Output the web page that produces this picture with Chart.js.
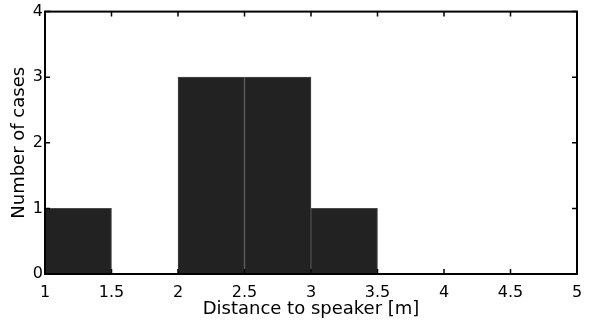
<!DOCTYPE html>
<html>
<head>
<meta charset="utf-8">
<script src="https://cdn.jsdelivr.net/npm/chart.js@4/dist/chart.umd.min.js"></script>
<style>
  html, body { margin: 0; padding: 0; background: #fff; }
  #wrap { width: 590px; height: 325px; }
</style>
</head>
<body>
<div id="wrap"><canvas id="myChart"></canvas></div>
<script>
// histogram bins (centres, 0.5 m wide) and counts
var binCenters = [1.25, 1.75, 2.25, 2.75, 3.25, 3.75, 4.25, 4.75];
var counts = [1, 0, 3, 3, 1, 0, 0, 0];
var xTicks = [1, 1.5, 2, 2.5, 3, 3.5, 4, 4.5, 5];
var yTicks = [0, 1, 2, 3, 4];

var tickFont = { family: 'DejaVu Sans', size: 16 };
var titleFont = { family: 'DejaVu Sans', size: 18 };

// box around the plot plus inward tick marks, matlab style
var boxPlugin = {
  id: 'box',
  afterDraw: function (chart) {
    var c = chart.ctx, a = chart.chartArea;
    var xs = chart.scales.x, ys = chart.scales.y;
    c.save();
    c.strokeStyle = '#000';
    c.lineWidth = 1.5;
    xTicks.forEach(function (v) {
      var px = xs.getPixelForValue(v);
      c.beginPath();
      c.moveTo(px, a.bottom); c.lineTo(px, a.bottom - 5);
      c.moveTo(px, a.top); c.lineTo(px, a.top + 5);
      c.stroke();
    });
    yTicks.forEach(function (v) {
      var py = ys.getPixelForValue(v);
      c.beginPath();
      c.moveTo(a.left, py); c.lineTo(a.left + 5, py);
      c.moveTo(a.right, py); c.lineTo(a.right - 5, py);
      c.stroke();
    });
    c.lineWidth = 2;
    c.strokeRect(a.left, a.top, a.right - a.left, a.bottom - a.top);
    c.restore();
  }
};

var ctx = document.getElementById('myChart').getContext('2d');
var myChart = new Chart(ctx, {
  type: 'bar',
  data: {
    datasets: [{
      data: binCenters.map(function (x, i) { return { x: x, y: counts[i] }; }),
      backgroundColor: '#222222',
      borderColor: '#4a4a4a',
      borderWidth: 1,
      barPercentage: 1,
      categoryPercentage: 1
    }]
  },
  options: {
    responsive: true,
    maintainAspectRatio: false,
    animation: false,
    layout: { padding: { top: 11, right: 13, left: 0, bottom: 0 } },
    plugins: { legend: { display: false }, tooltip: { enabled: false } },
    scales: {
      x: {
        type: 'linear',
        offset: false,
        min: 1, max: 5,
        afterBuildTicks: function (s) { s.ticks = xTicks.map(function (v) { return { value: v }; }); },
        afterFit: function (s) { s.height = 51; },
        grid: { display: false, offset: false },
        border: { display: false },
        ticks: { color: '#000', font: tickFont, padding: 1, maxRotation: 0,
                 callback: function (v) { return String(v); } },
        title: { display: true, text: 'Distance to speaker [m]', color: '#000', font: titleFont, padding: { top: 0, bottom: 5 } }
      },
      y: {
        min: 0, max: 4,
        afterBuildTicks: function (s) { s.ticks = yTicks.map(function (v) { return { value: v }; }); },
        afterFit: function (s) { s.width = 45; },
        grid: { display: false, drawTicks: false },
        border: { display: false },
        ticks: { color: '#000', font: tickFont, padding: 2 },
        title: { display: true, text: 'Number of cases', color: '#000', font: titleFont, padding: { top: 9, bottom: 0 } }
      }
    }
  },
  plugins: [boxPlugin]
});
</script>
</body>
</html>
